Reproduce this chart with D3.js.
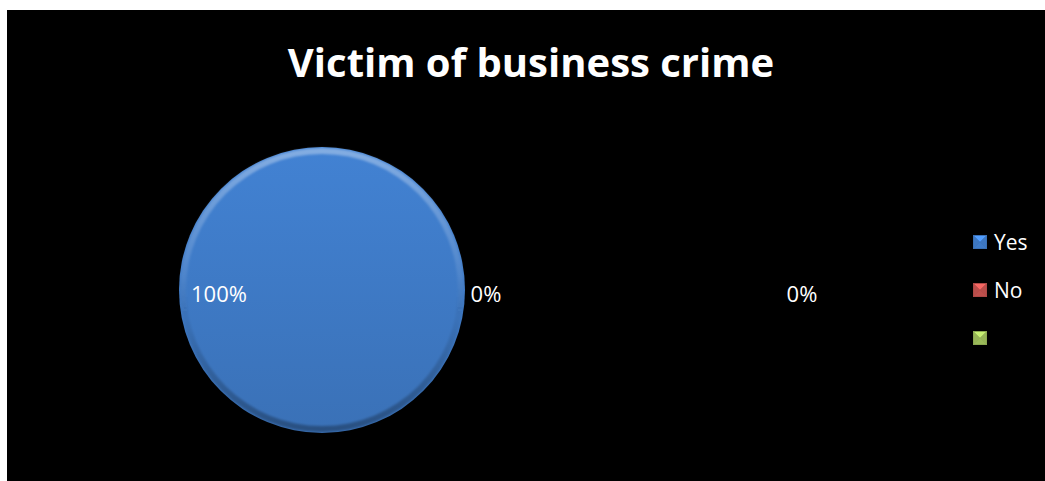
<!DOCTYPE html>
<html><head><meta charset="utf-8">
<script src="https://cdn.jsdelivr.net/npm/d3@7/dist/d3.min.js"></script>
<style>
html,body{margin:0;padding:0;background:#fff;}
svg{display:block;}
text{font-family:"Open Sans","Liberation Sans",sans-serif;}
</style></head>
<body>
<svg id="chart" width="1045" height="481"></svg>
<script>
const categories = ["Yes", "No", ""];
const values = [100, 0, 0];
const labels = ["100%", "0%", "0%"];
const colors = ["#3f7bc8", "#c0504d", "#9bbb59"];
const title = "Victim of business crime";

const svg = d3.select("#chart");
svg.append("rect").attr("x", 7).attr("y", 10).attr("width", 1038).attr("height", 471).attr("fill", "#000");

const defs = svg.append("defs");
categories.forEach((c, i) => {
  const base = d3.color(colors[i]);
  const g = defs.append("linearGradient").attr("id", "g" + i)
    .attr("x1", 0).attr("y1", 0).attr("x2", 0).attr("y2", 1);
  g.append("stop").attr("offset", "0%").attr("stop-color", base.brighter(0.15));
  g.append("stop").attr("offset", "100%").attr("stop-color", base.darker(0.25));
});
const rim = defs.append("linearGradient").attr("id", "rim")
  .attr("x1", 0).attr("y1", 0).attr("x2", 0).attr("y2", 1);
rim.append("stop").attr("offset", "0%").attr("stop-color", "#fff").attr("stop-opacity", 0.35);
rim.append("stop").attr("offset", "45%").attr("stop-color", "#fff").attr("stop-opacity", 0.08);
rim.append("stop").attr("offset", "60%").attr("stop-color", "#000").attr("stop-opacity", 0.05);
rim.append("stop").attr("offset", "100%").attr("stop-color", "#000").attr("stop-opacity", 0.3);
defs.append("filter").attr("id", "blur").append("feGaussianBlur").attr("stdDeviation", 1.2);

const cx = 322, cy = 290, R = 143;
const pieData = d3.pie().sort(null)(values);
const arc = d3.arc().innerRadius(0).outerRadius(R);
const rimArc = d3.arc().innerRadius(R - 7).outerRadius(R - 1);
const gPie = svg.append("g").attr("transform", `translate(${cx},${cy})`);
gPie.selectAll("path.slice").data(pieData).join("path").attr("class", "slice")
  .attr("d", arc)
  .attr("fill", (d, i) => `url(#g${i})`);
gPie.selectAll("path.rim").data(pieData).join("path").attr("class", "rim")
  .attr("d", rimArc).attr("fill", "url(#rim)").attr("filter", "url(#blur)");

svg.append("text").attr("x", 531).attr("y", 77).attr("text-anchor", "middle")
  .attr("fill", "#fff").attr("font-weight", "bold").attr("font-size", 40).text(title);

// data labels
const labelX = [219, 486, 802];
svg.selectAll(".lbl").data(labels).join("text").attr("class", "lbl")
  .attr("x", (d, i) => labelX[i]).attr("y", 302)
  .attr("text-anchor", "middle").attr("fill", "#fff")
  .attr("font-size", 22).text(d => d);

// legend
const leg = svg.selectAll(".leg").data(categories).join("g").attr("class", "leg")
  .attr("transform", (d, i) => `translate(973,${235 + i * 48})`);
leg.each(function(d, i) {
  const g = d3.select(this);
  const base = d3.color(colors[i]);
  g.append("rect").attr("width", 14).attr("height", 14).attr("fill", base.darker(0.3));
  g.append("path").attr("d", "M1,1 L13,1 L7,7 Z").attr("fill", base.brighter(0.7));
  g.append("path").attr("d", "M1,13 L13,13 L7,7 Z").attr("fill", base);
  g.append("path").attr("d", "M1,1 L1,13 L7,7 Z").attr("fill", base.darker(0.1));
  g.append("path").attr("d", "M13,1 L13,13 L7,7 Z").attr("fill", base.darker(0.1));
  g.append("text").attr("x", 21).attr("y", 15).attr("fill", "#fff").attr("font-size", 21).text(d);
});
</script>
</body></html>
